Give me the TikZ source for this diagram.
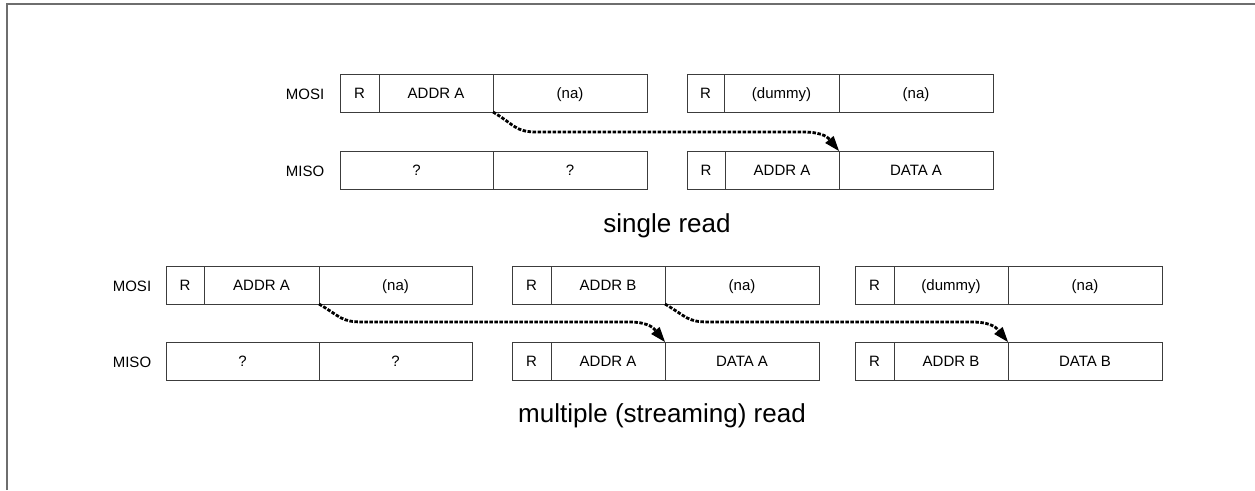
\documentclass[tikz,border=0pt]{standalone}
\usepackage{fontspec}
\setmainfont{Liberation Sans}
\usetikzlibrary{calc,arrows.meta}

\definecolor{boxline}{HTML}{3C3C3C}
\definecolor{framegray}{HTML}{6E6E6E}

\tikzset{
  cell/.style={draw=boxline, line width=1pt, minimum height=38pt, inner sep=0pt,
               outer sep=0pt, anchor=north west, text height=12.5pt, text depth=1.5pt,
               font=\fontsize{15}{18}\selectfont},
  sig/.style={text height=12.5pt, text depth=1.5pt, font=\fontsize{15}{18}\selectfont},
  caption/.style={anchor=base, font=\fontsize{26}{30}\selectfont},
  flow/.style={line width=2.8pt, dash pattern=on 3.5pt off 1.5pt,
               -{Triangle[length=15pt,width=11pt,line width=0pt]}}
}

% \cellbox{name}{x}{y}{width}{text}
\newcommand\cellbox[5]{\node[cell, minimum width=#4pt] (#1) at (#2,#3) {#5};}

% dotted transfer arrow: start, end, y of the horizontal run
\newcommand\transfer[3]{%
  \draw[flow] (#1)
    .. controls ($(#1)+(22,13)$) and ($(#1|-#3)+(22,0)$) .. ($(#1|-#3)+(44,0)$)
    -- ($(#2|-#3)+(-36,0)$)
    .. controls ($(#2|-#3)+(-14,0)$) and ($(#2)+(-10,-12)$) .. (#2);}

\begin{document}
\begin{tikzpicture}[x=1pt,y=-1pt]
  \useasboundingbox (0,0) rectangle (1255,490);

  % outer frame (open to the right and bottom)
  \draw[framegray, line width=1.3pt] (7,490) -- (7,4) -- (1255,4);

  % ---------- single read ----------
  \node[sig] (smosi) at (305,94) {MOSI};
  \node[sig] (smiso) at (305,171) {MISO};

  \cellbox{s1r}{340}{74}{39}{R}
  \cellbox{s1a}{379}{74}{114}{ADDR A}
  \cellbox{s1n}{493}{74}{154}{(na)}
  \cellbox{s2r}{687}{74}{37}{R}
  \cellbox{s2d}{724}{74}{115}{(dummy)}
  \cellbox{s2n}{839}{74}{154}{(na)}

  \cellbox{s3q}{340}{151}{153}{?}
  \cellbox{s3p}{493}{151}{154}{?}
  \cellbox{s4r}{687}{151}{38}{R}
  \cellbox{s4a}{725}{151}{114}{ADDR A}
  \cellbox{s4d}{839}{151}{154}{DATA A}

  \coordinate (sy) at (0,132);
  \transfer{s1a.south east}{s4d.north west}{sy}

  \node[caption] (scap) at (667,232) {single read};

  % ---------- multiple (streaming) read ----------
  \node[sig] (mmosi) at (132,286) {MOSI};
  \node[sig] (mmiso) at (132,362) {MISO};

  \cellbox{m1r}{166}{266}{38}{R}
  \cellbox{m1a}{204}{266}{115}{ADDR A}
  \cellbox{m1n}{319}{266}{153}{(na)}
  \cellbox{m2r}{512}{266}{39}{R}
  \cellbox{m2b}{551}{266}{114}{ADDR B}
  \cellbox{m2n}{665}{266}{154}{(na)}
  \cellbox{m3r}{855}{266}{39}{R}
  \cellbox{m3d}{894}{266}{114}{(dummy)}
  \cellbox{m3n}{1008}{266}{154}{(na)}

  \cellbox{m4q}{166}{342}{153}{?}
  \cellbox{m4p}{319}{342}{153}{?}
  \cellbox{m5r}{512}{342}{39}{R}
  \cellbox{m5a}{551}{342}{114}{ADDR A}
  \cellbox{m5d}{665}{342}{154}{DATA A}
  \cellbox{m6r}{855}{342}{39}{R}
  \cellbox{m6b}{894}{342}{114}{ADDR B}
  \cellbox{m6d}{1008}{342}{154}{DATA B}

  \coordinate (my) at (0,322);
  \transfer{m1a.south east}{m5d.north west}{my}
  \transfer{m2b.south east}{m6d.north west}{my}

  \node[caption] (mcap) at (662,422) {multiple (streaming) read};
\end{tikzpicture}
\end{document}
